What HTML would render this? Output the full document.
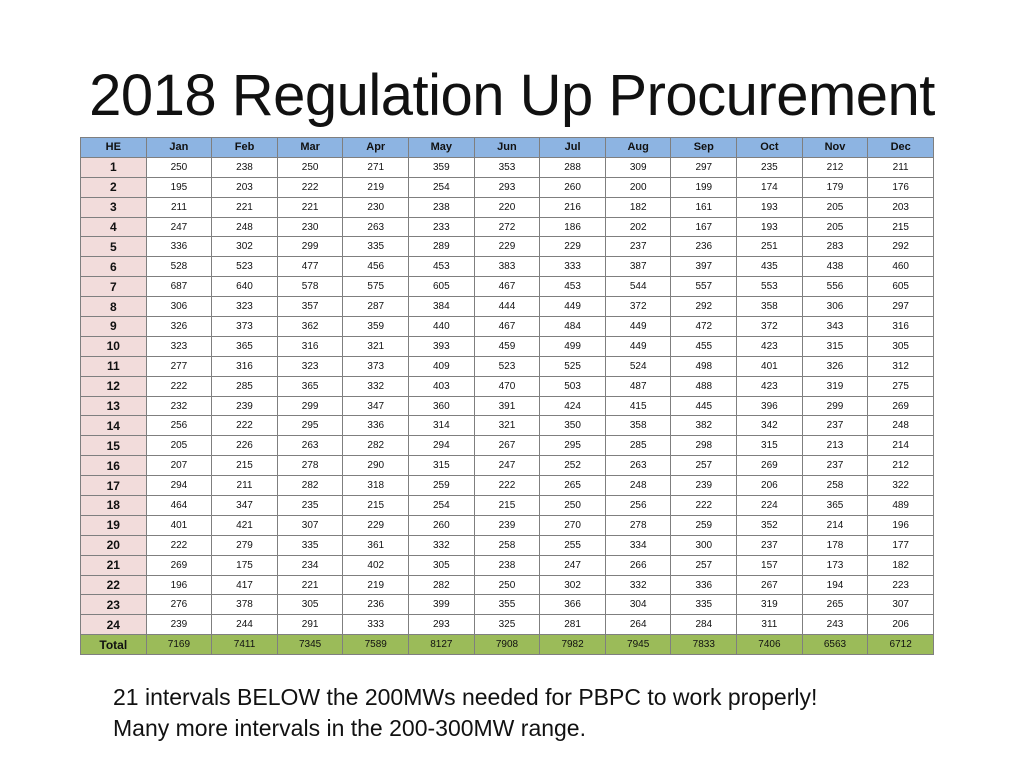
<!DOCTYPE html>
<html><head><meta charset="utf-8"><style>
body{margin:0;width:1024px;height:768px;background:#fff;font-family:"Liberation Sans",sans-serif;overflow:hidden;position:relative}
h1{position:absolute;left:0;width:1024px;top:58px;margin:0;text-align:center;font-weight:normal;font-size:58px;color:#111;line-height:76px;letter-spacing:-0.5px}
table{position:absolute;left:80px;top:137px;border-collapse:collapse;table-layout:fixed;width:854px}
td,th{border:1px solid #7f7f7f;height:18.9px;padding:0;text-align:center;font-size:10px;color:#111;font-weight:normal}
th{background:#8db4e2;font-weight:bold;font-size:11px}
td.he{background:#f2dcdb;font-weight:bold;font-size:12px}
tr.total td{background:#9bbb59}
.note{position:absolute;left:113px;top:682px;font-size:23px;line-height:31px;color:#111}
</style></head><body>
<h1>2018 Regulation Up Procurement</h1>
<table id="t"></table>
<div class="note">21 intervals BELOW the 200MWs needed for PBPC to work properly!<br>Many more intervals in the 200-300MW range.</div>
<script>
const months=["Jan","Feb","Mar","Apr","May","Jun","Jul","Aug","Sep","Oct","Nov","Dec"];
const rows=[
[250,238,250,271,359,353,288,309,297,235,212,211],
[195,203,222,219,254,293,260,200,199,174,179,176],
[211,221,221,230,238,220,216,182,161,193,205,203],
[247,248,230,263,233,272,186,202,167,193,205,215],
[336,302,299,335,289,229,229,237,236,251,283,292],
[528,523,477,456,453,383,333,387,397,435,438,460],
[687,640,578,575,605,467,453,544,557,553,556,605],
[306,323,357,287,384,444,449,372,292,358,306,297],
[326,373,362,359,440,467,484,449,472,372,343,316],
[323,365,316,321,393,459,499,449,455,423,315,305],
[277,316,323,373,409,523,525,524,498,401,326,312],
[222,285,365,332,403,470,503,487,488,423,319,275],
[232,239,299,347,360,391,424,415,445,396,299,269],
[256,222,295,336,314,321,350,358,382,342,237,248],
[205,226,263,282,294,267,295,285,298,315,213,214],
[207,215,278,290,315,247,252,263,257,269,237,212],
[294,211,282,318,259,222,265,248,239,206,258,322],
[464,347,235,215,254,215,250,256,222,224,365,489],
[401,421,307,229,260,239,270,278,259,352,214,196],
[222,279,335,361,332,258,255,334,300,237,178,177],
[269,175,234,402,305,238,247,266,257,157,173,182],
[196,417,221,219,282,250,302,332,336,267,194,223],
[276,378,305,236,399,355,366,304,335,319,265,307],
[239,244,291,333,293,325,281,264,284,311,243,206]];
const totals=[7169,7411,7345,7589,8127,7908,7982,7945,7833,7406,6563,6712];
const t=document.getElementById('t');
let tr=document.createElement('tr');


let th=document.createElement('th');th.textContent='HE';


tr.appendChild(th);
months.forEach(m=>{const c=document.createElement('th');c.textContent=m;


tr.appendChild(c);});
t.appendChild(tr);
function addRow(label,vals,cls,name){
 const r=document.createElement('tr');if(cls)r.className=cls;
 
 
 const h=document.createElement('td');h.className='he';h.textContent=label;
 
 
 r.appendChild(h);
 vals.forEach(v=>{const c=document.createElement('td');c.textContent=v;
 
 
 r.appendChild(c);});
 t.appendChild(r);
}
rows.forEach((v,i)=>addRow(i+1,v,'','hour-row'));
addRow('Total',totals,'total','total-row');
</script>
</body></html>
